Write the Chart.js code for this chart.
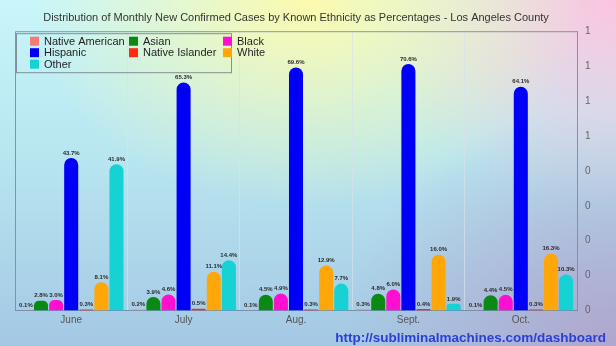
<!DOCTYPE html>
<html>
<head>
<meta charset="utf-8">
<script src="https://cdn.jsdelivr.net/npm/chart.js@4/dist/chart.umd.min.js"></script>
<style>
  html, body { margin: 0; padding: 0; }
  body {
    width: 616px;
    height: 346px;
    overflow: hidden;
    background:
      radial-gradient(ellipse 45% 60% at 50% 0%, rgba(255, 250, 170, 0.95), rgba(255, 250, 170, 0) 100%),
      radial-gradient(ellipse 40% 60% at 100% 0%, rgba(252, 196, 222, 1), rgba(252, 196, 222, 0) 100%),
      radial-gradient(ellipse 45% 70% at 100% 100%, rgba(176, 166, 206, 1), rgba(176, 166, 206, 0) 100%),
      linear-gradient(to bottom, #c8f6fa 0%, #b8e6f0 45%, #a4c8e4 100%);
  }
  #wrap { position: relative; width: 616px; height: 346px; }
  canvas { display: block; }
</style>
</head>
<body>
<div id="wrap"><canvas id="ethnicityChart" width="616" height="346"></canvas></div>
<script>
const months = ["June", "July", "Aug.", "Sept.", "Oct."];

const nativeAmerican = [0.001, 0.002, 0.001, 0.003, 0.001];
const asian = [0.028, 0.039, 0.045, 0.048, 0.044];
const black = [0.030, 0.046, 0.049, 0.060, 0.045];
const hispanic = [0.437, 0.653, 0.696, 0.706, 0.641];
const nativeIslander = [0.003, 0.005, 0.003, 0.004, 0.003];
const white = [0.081, 0.111, 0.129, 0.160, 0.163];
const other = [0.419, 0.144, 0.077, 0.019, 0.103];

const series = [
  { label: "Native American", data: nativeAmerican, color: "#f47c74" },
  { label: "Asian", data: asian, color: "#0a8a12" },
  { label: "Black", data: black, color: "#ff10d0" },
  { label: "Hispanic", data: hispanic, color: "#0000f6" },
  { label: "Native Islander", data: nativeIslander, color: "#ff2a10" },
  { label: "White", data: white, color: "#ffa608" },
  { label: "Other", data: other, color: "#16d2d2" },
];

const FONT = "'Liberation Sans', Arial, Helvetica, sans-serif";

// percentage labels above each bar
const barLabels = {
  id: "barLabels",
  afterDatasetsDraw(chart) {
    const ctx = chart.ctx;
    ctx.save();
    ctx.font = "bold 6px " + FONT;
    ctx.fillStyle = "#2a2a2a";
    ctx.textAlign = "center";
    ctx.textBaseline = "bottom";
    chart.data.datasets.forEach((ds, i) => {
      chart.getDatasetMeta(i).data.forEach((bar, j) => {
        const v = (ds.data[j] * 100).toFixed(1) + "%";
        ctx.fillText(v, bar.x, bar.y - 2);
      });
    });
    ctx.restore();
  },
};

// left and top edges of the plot frame
const frame = {
  id: "frame",
  beforeDatasetsDraw(chart) {
    const a = chart.chartArea;
    const ctx = chart.ctx;
    ctx.save();
    ctx.strokeStyle = "rgba(100,130,165,0.8)";
    ctx.lineWidth = 1;
    ctx.beginPath();
    ctx.moveTo(a.left + 0.5, a.bottom);
    ctx.lineTo(a.left + 0.5, a.top + 0.5);
    ctx.lineTo(a.right, a.top + 0.5);
    ctx.stroke();
    ctx.restore();
  },
};

// boxed legend in three columns inside the plot
const boxLegend = {
  id: "boxLegend",
  afterDraw(chart) {
    const a = chart.chartArea;
    const ctx = chart.ctx;
    const x0 = a.left + 1, y0 = a.top + 2;
    const colX = [14, 113, 207];
    const rowH = 11.5;
    ctx.save();
    ctx.strokeStyle = "rgba(110,120,130,0.8)";
    ctx.lineWidth = 1;
    ctx.strokeRect(x0 + 0.5, y0 + 0.5, 215, 39);
    ctx.font = "11px " + FONT;
    ctx.textBaseline = "middle";
    ctx.textAlign = "left";
    series.forEach((s, i) => {
      const col = i % 3, row = Math.floor(i / 3);
      const x = x0 + colX[col];
      const y = y0 + 8 + row * rowH;
      ctx.fillStyle = s.color;
      ctx.fillRect(x, y - 4.5, 9, 9);
      ctx.fillStyle = "#1e1e1e";
      ctx.fillText(s.label, x + 14, y + 0.5);
    });
    ctx.restore();
  },
};

const ctx = document.getElementById("ethnicityChart");

new Chart(ctx, {
  type: "bar",
  data: {
    labels: months,
    datasets: series.map((s) => ({
      label: s.label,
      data: s.data,
      backgroundColor: s.color,
      borderColor: s.color,
      borderWidth: 0,
      borderRadius: 20,
      borderSkipped: "start",
      categoryPercentage: 0.94,
      barPercentage: 0.93,
    })),
  },
  options: {
    responsive: false,
    animation: false,
    devicePixelRatio: 1,
    layout: { padding: { left: 15, right: 10, top: 0, bottom: 0 } },
    scales: {
      x: {
        grid: {
          display: true,
          color: "rgba(215,225,235,0.7)",
          drawTicks: false,
        },
        border: { display: true, color: "rgba(100,130,165,0.8)" },
        ticks: { color: "#555", font: { family: FONT, size: 10 }, padding: 4 },
      },
      y: {
        position: "right",
        min: 0,
        max: 0.8,
        afterFit: (axis) => { axis.width = 29; },
        grid: { display: false, drawTicks: false },
        border: { display: true, color: "rgba(100,130,165,0.8)" },
        ticks: {
          stepSize: 0.1,
          color: "#666",
          font: { family: FONT, size: 10 },
          padding: 8,
          callback: (v) => Math.round(v),
        },
      },
    },
    plugins: {
      legend: { display: false },
      tooltip: { enabled: false },
      title: {
        display: true,
        text: "Distribution of Monthly New Confirmed Cases by Known Ethnicity as Percentages - Los Angeles County",
        color: "#333",
        font: { family: FONT, size: 11, weight: "normal" },
        padding: { top: 11, bottom: 7 },
        fullSize: false,
      },
      subtitle: {
        display: true,
        position: "bottom",
        align: "end",
        text: "http://subliminalmachines.com/dashboard",
        color: "#2a40d4",
        font: { family: FONT, size: 13.5, weight: "bold", lineHeight: 1.0 },
        padding: { top: 1.5, bottom: 0.5 },
      },
    },
  },
  plugins: [barLabels, frame, boxLegend],
});
</script>
</body>
</html>
